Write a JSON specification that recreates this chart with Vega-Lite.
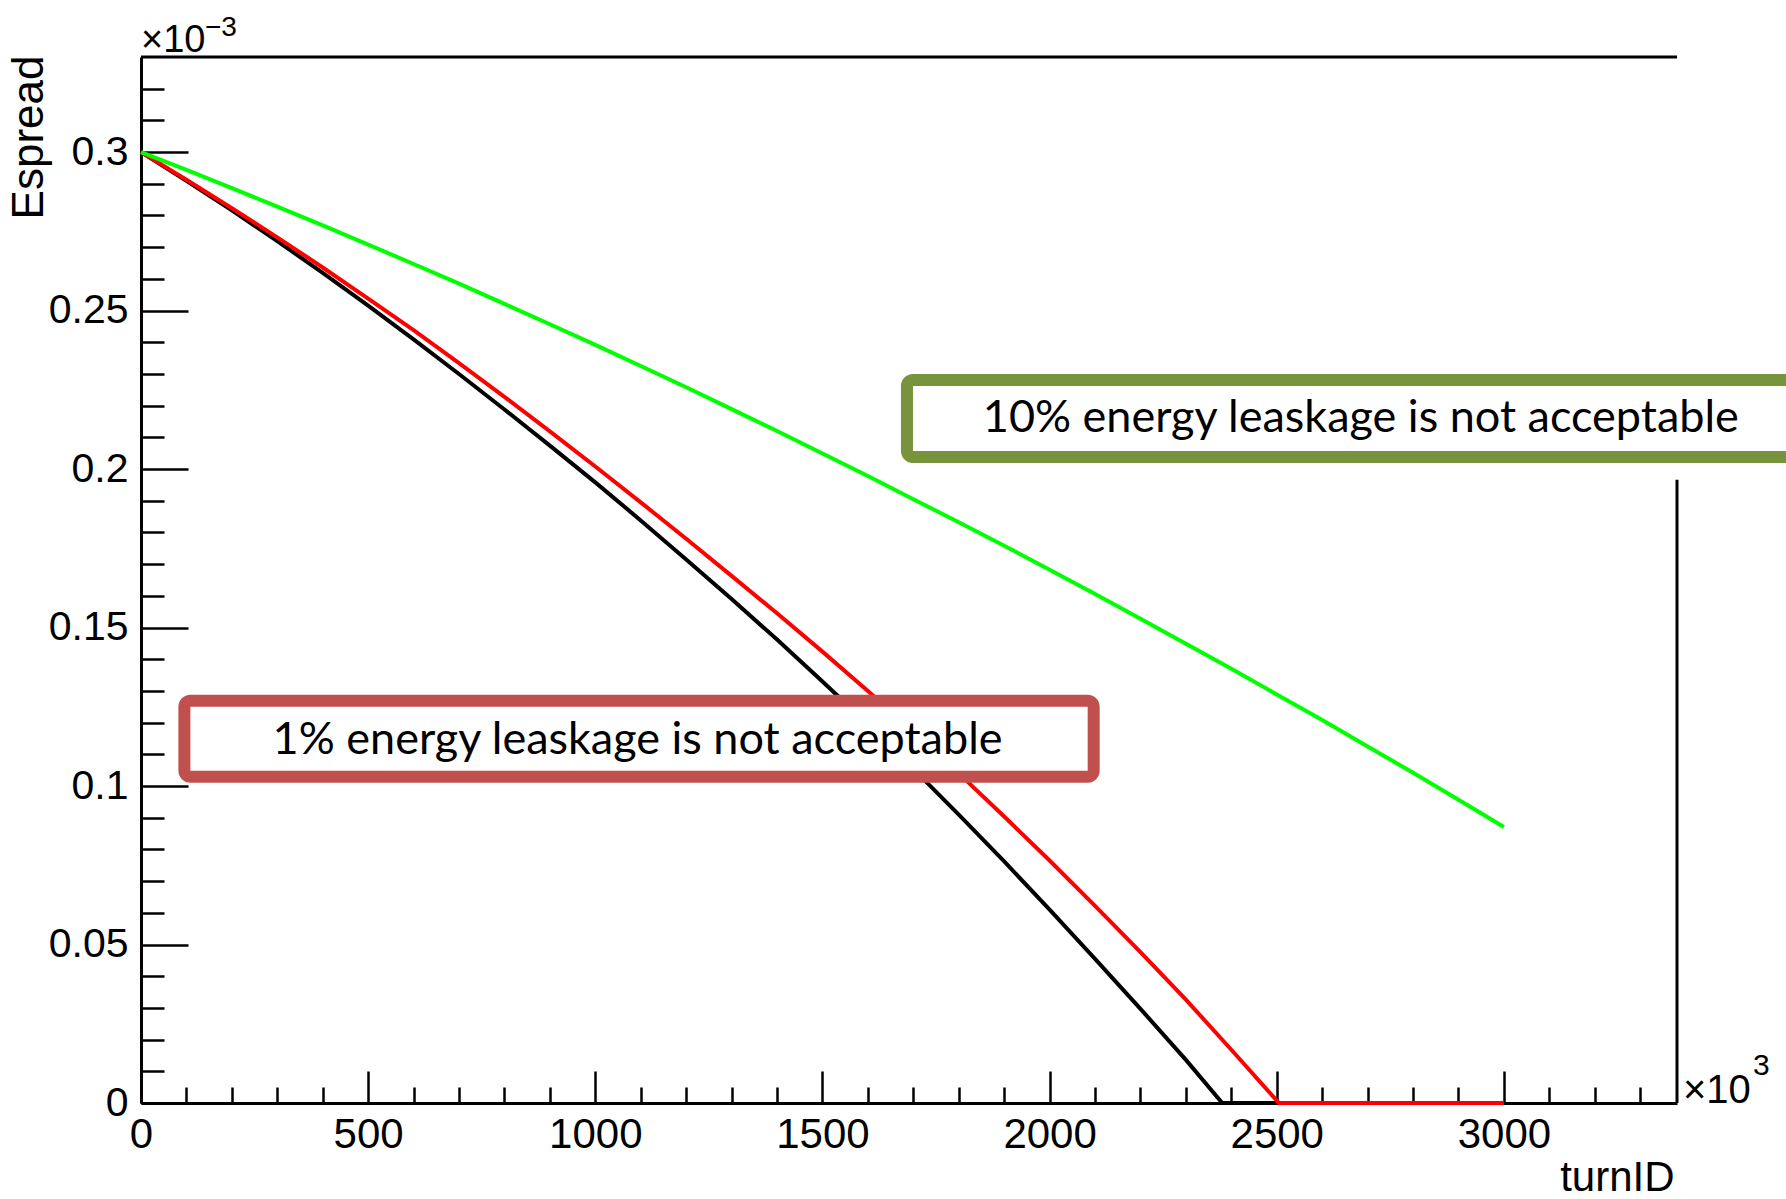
{
  "$schema": "https://vega.github.io/schema/vega-lite/v6.json",
  "width": 1536,
  "height": 1046,
  "autosize": {"type": "none"},
  "padding": {"left": 141, "top": 57, "right": 109, "bottom": 96},
  "background": "white",
  "config": {"view": {"stroke": null}, "font": "Liberation Sans"},
  "resolve": {"axis": {"x": "independent", "y": "independent"}},
  "datasets": {
    "black": [
      {"t": 0, "v": 0.3}, {"t": 100, "v": 0.2909}, {"t": 200, "v": 0.2816}, {"t": 300, "v": 0.2719},
      {"t": 400, "v": 0.2619}, {"t": 500, "v": 0.2516}, {"t": 600, "v": 0.2409}, {"t": 700, "v": 0.23},
      {"t": 800, "v": 0.2188}, {"t": 900, "v": 0.2074}, {"t": 1000, "v": 0.1958}, {"t": 1100, "v": 0.1838},
      {"t": 1200, "v": 0.1715}, {"t": 1300, "v": 0.159}, {"t": 1400, "v": 0.1462}, {"t": 1500, "v": 0.133},
      {"t": 1600, "v": 0.1195}, {"t": 1700, "v": 0.1054}, {"t": 1800, "v": 0.091}, {"t": 1900, "v": 0.0762},
      {"t": 2000, "v": 0.061}, {"t": 2100, "v": 0.0455}, {"t": 2200, "v": 0.0297}, {"t": 2300, "v": 0.0136},
      {"t": 2380, "v": 0}, {"t": 3000, "v": 0}
    ],
    "red": [
      {"t": 0, "v": 0.3}, {"t": 100, "v": 0.2913}, {"t": 200, "v": 0.2823}, {"t": 300, "v": 0.2731},
      {"t": 400, "v": 0.2636}, {"t": 500, "v": 0.2538}, {"t": 600, "v": 0.2438}, {"t": 700, "v": 0.2334},
      {"t": 800, "v": 0.2228}, {"t": 900, "v": 0.2119}, {"t": 1000, "v": 0.2008}, {"t": 1100, "v": 0.1895},
      {"t": 1200, "v": 0.178}, {"t": 1300, "v": 0.1663}, {"t": 1400, "v": 0.1545}, {"t": 1500, "v": 0.1424},
      {"t": 1600, "v": 0.13}, {"t": 1700, "v": 0.1171}, {"t": 1800, "v": 0.104}, {"t": 1900, "v": 0.0904},
      {"t": 2000, "v": 0.0765}, {"t": 2100, "v": 0.0622}, {"t": 2200, "v": 0.0476}, {"t": 2300, "v": 0.0326},
      {"t": 2400, "v": 0.0168}, {"t": 2505, "v": 0}, {"t": 3000, "v": 0}
    ],
    "green": [
      {"t": 0, "v": 0.3}, {"t": 100, "v": 0.2944}, {"t": 200, "v": 0.2886}, {"t": 300, "v": 0.2828},
      {"t": 400, "v": 0.2769}, {"t": 500, "v": 0.2708}, {"t": 600, "v": 0.2647}, {"t": 700, "v": 0.2585},
      {"t": 800, "v": 0.2521}, {"t": 900, "v": 0.2457}, {"t": 1000, "v": 0.2392}, {"t": 1100, "v": 0.2325},
      {"t": 1200, "v": 0.2258}, {"t": 1300, "v": 0.2189}, {"t": 1400, "v": 0.212}, {"t": 1500, "v": 0.2049},
      {"t": 1600, "v": 0.1978}, {"t": 1700, "v": 0.1905}, {"t": 1800, "v": 0.1832}, {"t": 1900, "v": 0.1758},
      {"t": 2000, "v": 0.1682}, {"t": 2100, "v": 0.1606}, {"t": 2200, "v": 0.1528}, {"t": 2300, "v": 0.1449},
      {"t": 2400, "v": 0.137}, {"t": 2500, "v": 0.1289}, {"t": 2600, "v": 0.1208}, {"t": 2700, "v": 0.1125},
      {"t": 2800, "v": 0.1042}, {"t": 2900, "v": 0.0957}, {"t": 3000, "v": 0.0871}
    ]
  },
  "layer": [
    {
      "data": {"name": "black"},
      "mark": {"type": "line", "color": "#000000", "strokeWidth": 4},
      "encoding": {
        "x": {
          "field": "t", "type": "quantitative",
          "scale": {"domain": [0, 3381], "nice": false, "zero": false},
          "axis": {
            "orient": "bottom",
            "title": "turnID", "titleFont": "Liberation Sans", "titleFontSize": 42, "titleFontWeight": "normal",
            "titleColor": "black", "titleX": 1533, "titleY": 87, "titleAlign": "right", "titleBaseline": "alphabetic",
            "values": [0, 500, 1000, 1500, 2000, 2500, 3000],
            "format": "d",
            "labelFont": "Liberation Sans", "labelFontSize": 42, "labelColor": "black",
            "labelBaseline": "alphabetic", "labelPadding": 76, "labelFlush": false, "labelOverlap": false,
            "tickSize": -32,
            "tickColor": "black", "tickWidth": 2.5, "domainColor": "black", "domainWidth": 3, "grid": false
          }
        },
        "y": {
          "field": "v", "type": "quantitative",
          "scale": {"domain": [0, 0.33], "nice": false},
          "axis": {
            "orient": "left",
            "title": "Espread", "titleFont": "Liberation Sans", "titleFontSize": 44, "titleFontWeight": "normal",
            "titleColor": "black", "titleAngle": 270, "titleX": -99, "titleY": -2, "titleAlign": "right", "titleBaseline": "alphabetic",
            "values": [0, 0.05, 0.1, 0.15, 0.2, 0.25, 0.3],
            "format": "~g",
            "labelFont": "Liberation Sans", "labelFontSize": 41, "labelColor": "black",
            "labelPadding": 60, "labelOverlap": false, "labelFlush": false,
            "tickSize": -47,
            "tickColor": "black", "tickWidth": 2.5, "domainColor": "black", "domainWidth": 3, "grid": false
          }
        }
      }
    },
    {
      "data": {"name": "red"},
      "mark": {"type": "line", "color": "#ff0000", "strokeWidth": 4},
      "encoding": {
        "x": {
          "field": "t", "type": "quantitative",
          "axis": {
            "orient": "bottom", "title": null, "labels": false, "domain": false, "grid": false,
            "values": [100,200,300,400,600,700,800,900,1100,1200,1300,1400,1600,1700,1800,1900,2100,2200,2300,2400,2600,2700,2800,2900,3100,3200,3300],
            "tickSize": -16, "tickColor": "black", "tickWidth": 2.5
          }
        },
        "y": {
          "field": "v", "type": "quantitative",
          "axis": {
            "orient": "left", "title": null, "labels": false, "domain": false, "grid": false,
            "values": [0.01,0.02,0.03,0.04,0.06,0.07,0.08,0.09,0.11,0.12,0.13,0.14,0.16,0.17,0.18,0.19,0.21,0.22,0.23,0.24,0.26,0.27,0.28,0.29,0.31,0.32],
            "tickSize": -23, "tickColor": "black", "tickWidth": 2.5
          }
        }
      }
    },
    {
      "data": {"name": "green"},
      "mark": {"type": "line", "color": "#00ff00", "strokeWidth": 4},
      "encoding": {
        "x": {"field": "t", "type": "quantitative", "axis": null},
        "y": {"field": "v", "type": "quantitative", "axis": null}
      }
    },
    {
      "data": {"values": [{}]},
      "mark": {"type": "rule", "color": "black", "strokeWidth": 3},
      "encoding": {"y": {"datum": 0.33, "type": "quantitative", "axis": null}}
    },
    {
      "data": {"values": [{}]},
      "mark": {"type": "rule", "color": "black", "strokeWidth": 3},
      "encoding": {
        "x": {"datum": 3381, "type": "quantitative", "axis": null},
        "y": {"datum": 0, "type": "quantitative", "axis": null},
        "y2": {"datum": 0.1966}
      }
    },
    {
      "data": {"values": [{}]},
      "mark": {"type": "rect", "fill": "white", "stroke": "#C0504D", "strokeWidth": 12, "cornerRadius": 6},
      "encoding": {
        "x": {"datum": 95.5, "type": "quantitative", "axis": null},
        "x2": {"datum": 2097},
        "y": {"datum": 0.1269, "type": "quantitative", "axis": null},
        "y2": {"datum": 0.1029}
      }
    },
    {
      "data": {"values": [{}]},
      "mark": {"type": "rect", "fill": "white", "stroke": "#77933C", "strokeWidth": 12, "cornerRadius": 6},
      "encoding": {
        "x": {"datum": 1686, "type": "quantitative", "axis": null},
        "x2": {"datum": 3900},
        "y": {"datum": 0.2281, "type": "quantitative", "axis": null},
        "y2": {"datum": 0.2038}
      }
    },
    {
      "data": {"values": [{"label": "1% energy leaskage is not acceptable"}]},
      "mark": {"type": "text", "font": "Lato", "fontSize": 45, "align": "center", "baseline": "middle", "color": "black"},
      "encoding": {
        "text": {"field": "label"},
        "x": {"datum": 1093, "type": "quantitative", "axis": null},
        "y": {"datum": 0.1146, "type": "quantitative", "axis": null}
      }
    },
    {
      "data": {"values": [{"label": "10% energy leaskage is not acceptable"}]},
      "mark": {"type": "text", "font": "Lato", "fontSize": 45, "align": "center", "baseline": "middle", "color": "black"},
      "encoding": {
        "text": {"field": "label"},
        "x": {"datum": 2685, "type": "quantitative", "axis": null},
        "y": {"datum": 0.2161, "type": "quantitative", "axis": null}
      }
    },
    {
      "data": {"values": [{"label": "×10"}]},
      "mark": {"type": "text", "font": "Liberation Sans", "fontSize": 38, "align": "left", "baseline": "alphabetic", "color": "black", "dy": -5},
      "encoding": {
        "text": {"field": "label"},
        "x": {"datum": 0, "type": "quantitative", "axis": null},
        "y": {"datum": 0.33, "type": "quantitative", "axis": null}
      }
    },
    {
      "data": {"values": [{"label": "−3"}]},
      "mark": {"type": "text", "font": "Liberation Sans", "fontSize": 28, "align": "left", "baseline": "alphabetic", "color": "black", "dx": 64, "dy": -21},
      "encoding": {
        "text": {"field": "label"},
        "x": {"datum": 0, "type": "quantitative", "axis": null},
        "y": {"datum": 0.33, "type": "quantitative", "axis": null}
      }
    },
    {
      "data": {"values": [{"label": "×10"}]},
      "mark": {"type": "text", "font": "Liberation Sans", "fontSize": 40, "align": "left", "baseline": "alphabetic", "color": "black", "dx": 6, "dy": 0},
      "encoding": {
        "text": {"field": "label"},
        "x": {"datum": 3381, "type": "quantitative", "axis": null},
        "y": {"datum": 0, "type": "quantitative", "axis": null}
      }
    },
    {
      "data": {"values": [{"label": "3"}]},
      "mark": {"type": "text", "font": "Liberation Sans", "fontSize": 30, "align": "left", "baseline": "alphabetic", "color": "black", "dx": 76, "dy": -28},
      "encoding": {
        "text": {"field": "label"},
        "x": {"datum": 3381, "type": "quantitative", "axis": null},
        "y": {"datum": 0, "type": "quantitative", "axis": null}
      }
    }
  ]
}
